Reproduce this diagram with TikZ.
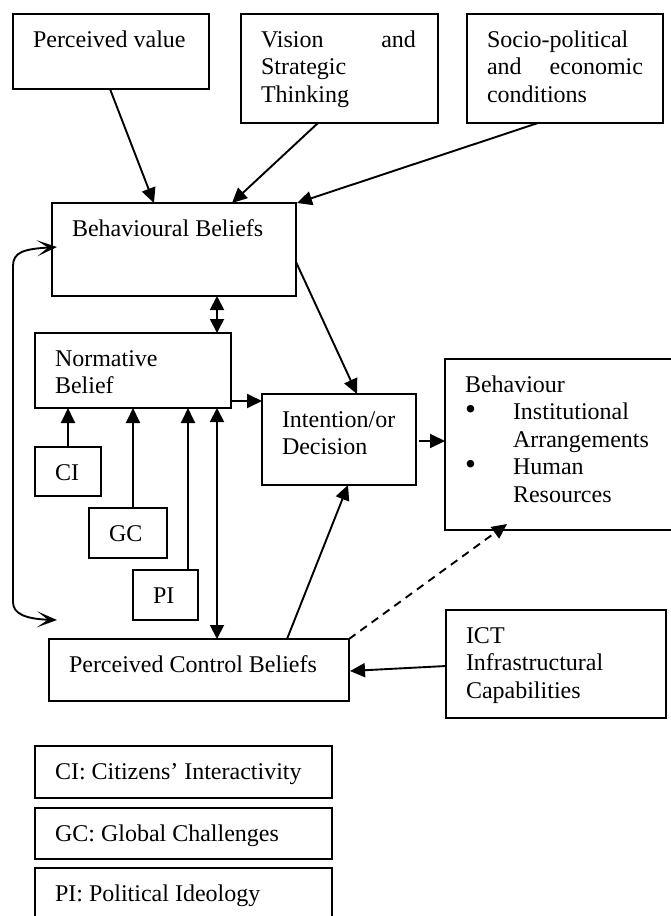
\documentclass[tikz,border=0pt]{standalone}
\usepackage{fontspec}
\setmainfont{Liberation Serif}
\usetikzlibrary{arrows.meta,calc}

\tikzset{
  box/.style={draw, line width=1.3pt, rectangle, inner sep=0pt, outer sep=0pt},
  lbl/.style={inner sep=0pt, outer sep=0pt, anchor=base west,
              font=\fontsize{24pt}{27.6pt}\selectfont},
  conn/.style={line width=1.9pt, -{Triangle[length=15pt,width=14pt]}},
  both/.style={line width=1.9pt,
               {Triangle[length=14pt,width=14pt]}-{Triangle[length=14pt,width=14pt]}},
  feedback/.style={line width=1.9pt,
               {Stealth[length=20pt,width=16pt,inset=11pt]}-{Stealth[length=20pt,width=16pt,inset=11pt]}},
  dashconn/.style={conn, dash pattern=on 8pt off 6pt},
}

% a framed box (top-left corner, width, height) with its text set
% 20pt in from the left and the first baseline 33pt below the top
\newcommand\diagbox[6]{%
  \node[box, anchor=north west, minimum width=#4pt, minimum height=#5pt] (#1) at (#2,#3) {};
  \node[lbl] (#1-text) at ($(#1.north west)+(20,33)$)
    {\parbox[t]{320pt}{\raggedright #6}};
}
\newcommand\bigbullet{\makebox[48pt][l]{\scalebox{1.3}{\textbullet}}}

\begin{document}
\begin{tikzpicture}[x=1pt, y=-1pt]
\useasboundingbox (0,0) rectangle (671,916);

% influences on behavioural beliefs
\diagbox{pv}{13}{14}{196}{75}{Perceived value}
\diagbox{vst}{241}{14}{197}{109}{\makebox[155pt][l]{Vision\hfill and}\\Strategic\\Thinking}
\diagbox{spe}{467}{14}{196}{109}{Socio-political\\\makebox[156pt][l]{and\hfill economic}\\conditions}

% core constructs
\diagbox{bb}{52}{203}{244}{93}{Behavioural Beliefs}
\diagbox{nb}{35}{333}{196}{75}{Normative\\Belief}
\diagbox{ci}{35}{447}{66}{49}{CI}
\diagbox{gc}{89}{508}{78}{50}{GC}
\diagbox{pi}{133}{570}{65}{50}{PI}
\diagbox{id}{262}{394}{154}{91}{Intention/or\\Decision}
\diagbox{beh}{445}{359}{232}{171}{Behaviour\\
  \bigbullet Institutional\\
  \hspace*{48pt}Arrangements\\
  \bigbullet Human\\
  \hspace*{48pt}Resources}
\diagbox{pcb}{49}{639}{300}{62}{Perceived Control Beliefs}
\diagbox{ict}{446}{610}{220}{108}{ICT\\Infrastructural\\Capabilities}

% key to the abbreviations
\diagbox{lci}{35}{746}{297}{52}{CI: Citizens’ Interactivity}
\diagbox{lgc}{35}{808}{297}{51}{GC: Global Challenges}
\diagbox{lpi}{35}{868}{297}{56}{PI: Political Ideology}

% arrows into behavioural beliefs
\draw[conn] ($(pv.south west)+(97,0)$) -- ($(bb.north west)+(102,0)$);
\draw[conn] ($(vst.south west)+(77,0)$) -- ($(bb.north west)+(180,0)$);
\draw[conn] ($(spe.south west)+(71,0)$) -- ($(bb.north east)+(1,0)$);

% beliefs to intention
\draw[both] ($(bb.south west)+(165,0)$) -- ($(nb.north west)+(182,0)$);
\draw[conn] ($(bb.north east)+(0,59)$) -- ($(id.north west)+(95,0)$);
\draw[conn] ($(nb.south east)+(0,-7)$) -- ($(id.north west)+(0,7)$);

% factors feeding normative belief
\coordinate (ciup) at (ci.north);
\coordinate (gcup) at ($(gc.north west)+(44,0)$);
\coordinate (piup) at ($(pi.north west)+(55,0)$);
\draw[conn] (ciup) -- (ciup |- nb.south);
\draw[conn] (gcup) -- (gcup |- nb.south);
\draw[conn] (piup) -- (piup |- nb.south);

% normative belief and perceived control
\coordinate (np) at ($(nb.south west)+(182,0)$);
\draw[both] (np) -- (np |- pcb.north);

% feedback loop between behavioural and control beliefs
\coordinate (fbtop) at ($(bb.west)+(5,-2.5)$);
\coordinate (fbbot) at ($(pcb.north west)+(8,-19)$);
\draw[feedback] (fbtop) .. controls (24,249) and (13,252) .. (13,266)
  -- (13,602) .. controls (13,614) and (26,619) .. (fbbot);

% towards behaviour
\draw[conn] ($(pcb.north west)+(238,0)$) -- ($(id.south west)+(86,0)$);
\coordinate (idout) at ($(id.east)+(3,1.5)$);
\draw[conn] (idout) -- (idout -| beh.west);
\draw[dashconn] (pcb.north east) -- ($(beh.south west)+(62,-6)$);
\draw[conn] ($(ict.west)+(0,2)$) -- ($(pcb.east)+(1,1)$);
\end{tikzpicture}
\end{document}
